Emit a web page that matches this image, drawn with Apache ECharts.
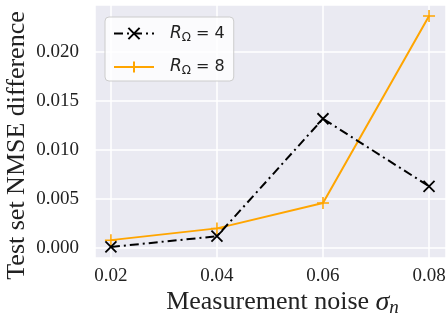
<!DOCTYPE html>
<html>
<head>
<meta charset="utf-8">
<script src="https://cdn.jsdelivr.net/npm/echarts@6/dist/echarts.min.js"></script>
<style>
  html, body { margin: 0; padding: 0; background: #fff; }
  #chart { width: 447px; height: 320px; }
</style>
</head>
<body>
<div id="chart"></div>
<script>
// noise levels on the x axis
const noiseLevels = [0.02, 0.04, 0.06, 0.08];
// test set NMSE difference per R_Omega
const nmseR4 = [0.0001, 0.0012, 0.0132, 0.0063];
const nmseR8 = [0.0008, 0.0020, 0.0046, 0.0237];
const seriesNames = ["R4", "R8"];

const crossPath = "path://M0,0L10,10M10,0L0,10";
const plusPath = "path://M5,0L5,10M0,5L10,5";

const serif = "Liberation Serif";

const pairs = (ys) => noiseLevels.map((x, i) => [x, ys[i]]);
const onStep = (v, step) => Math.abs(v / step - Math.round(v / step)) < 1e-6;

const chart = echarts.init(document.getElementById("chart"));
chart.setOption({
  animation: false,
  backgroundColor: "#fff",
  grid: {
    left: 95, right: 1, top: 5, bottom: 62,
    outerBoundsMode: "none",
    show: true, backgroundColor: "#EAEAF2", borderWidth: 0,
  },
  legend: {
    left: 105, top: 17,
    orient: "vertical",
    itemWidth: 40, itemHeight: 14, itemGap: 15,
    padding: [8, 9, 4, 8],
    backgroundColor: "rgba(255,255,255,0.8)",
    borderColor: "#CCCCCC", borderWidth: 1, borderRadius: 4,
    formatter: (name) => name === "R4" ? "{g|}{r|R}{s|Ω}{t| = 4}" : "{g|}{r|R}{s|Ω}{t| = 8}",
    textStyle: {
      rich: {
        g: { width: 11 },
        r: { fontFamily: "DejaVu Sans", fontStyle: "italic", fontSize: 17, color: "#222" },
        s: { fontFamily: "DejaVu Sans", fontSize: 12, color: "#222", padding: [8, 0, 0, 0] },
        t: { fontFamily: "DejaVu Sans", fontSize: 16, color: "#222" },
      },
    },
  },
  xAxis: {
    type: "value",
    min: 0.017, max: 0.0832,
    splitNumber: 3,
    axisLine: { show: false },
    axisTick: { show: false },
    axisLabel: {
      margin: 9,
      fontFamily: serif, fontSize: 19, color: "#222",
      formatter: (v) => onStep(v, 0.02) ? v.toFixed(2) : "",
    },
    splitLine: { lineStyle: { color: "#fff", width: 1.5 } },
    name: "{a|Measurement noise }{b|σ}{c|n}",
    nameLocation: "middle",
    nameGap: 30,
    nameMoveOverlap: false,
    nameTextStyle: {
      padding: [0, 0, 0, 24],
      rich: {
        a: { fontFamily: serif, fontSize: 26, color: "#222" },
        b: { fontFamily: serif, fontStyle: "italic", fontSize: 28, color: "#222" },
        c: { fontFamily: serif, fontStyle: "italic", fontSize: 19, color: "#222", padding: [10, 0, 0, 0] },
      },
    },
  },
  yAxis: {
    type: "value",
    min: -0.001026, max: 0.02482,
    splitNumber: 5,
    axisLine: { show: false },
    axisTick: { show: false },
    axisLabel: {
      margin: 16,
      fontFamily: serif, fontSize: 19, color: "#222",
      formatter: (v) => onStep(v, 0.005) ? v.toFixed(3) : "",
    },
    splitLine: { lineStyle: { color: "#fff", width: 1.5 } },
    name: "Test set NMSE difference",
    nameLocation: "middle",
    nameGap: 65,
    nameMoveOverlap: false,
    nameTextStyle: { fontFamily: serif, fontSize: 26, color: "#222", padding: [0, 28, 0, 0] },
  },
  series: [
    {
      name: seriesNames[0],
      type: "line",
      data: pairs(nmseR4),
      symbol: crossPath,
      symbolSize: 11,
      showAllSymbol: true,
      lineStyle: { color: "#000", width: 2, type: [9, 4, 2, 4] },
      itemStyle: { color: "#000", borderColor: "#000", borderWidth: 1.8 },
      z: 3,
    },
    {
      name: seriesNames[1],
      type: "line",
      data: pairs(nmseR8),
      symbol: plusPath,
      symbolSize: 12,
      lineStyle: { color: "#FFA500", width: 2 },
      itemStyle: { color: "#FFA500", borderColor: "#FFA500", borderWidth: 1.5 },
      z: 2,
    },
  ],
});
</script>
</body>
</html>
